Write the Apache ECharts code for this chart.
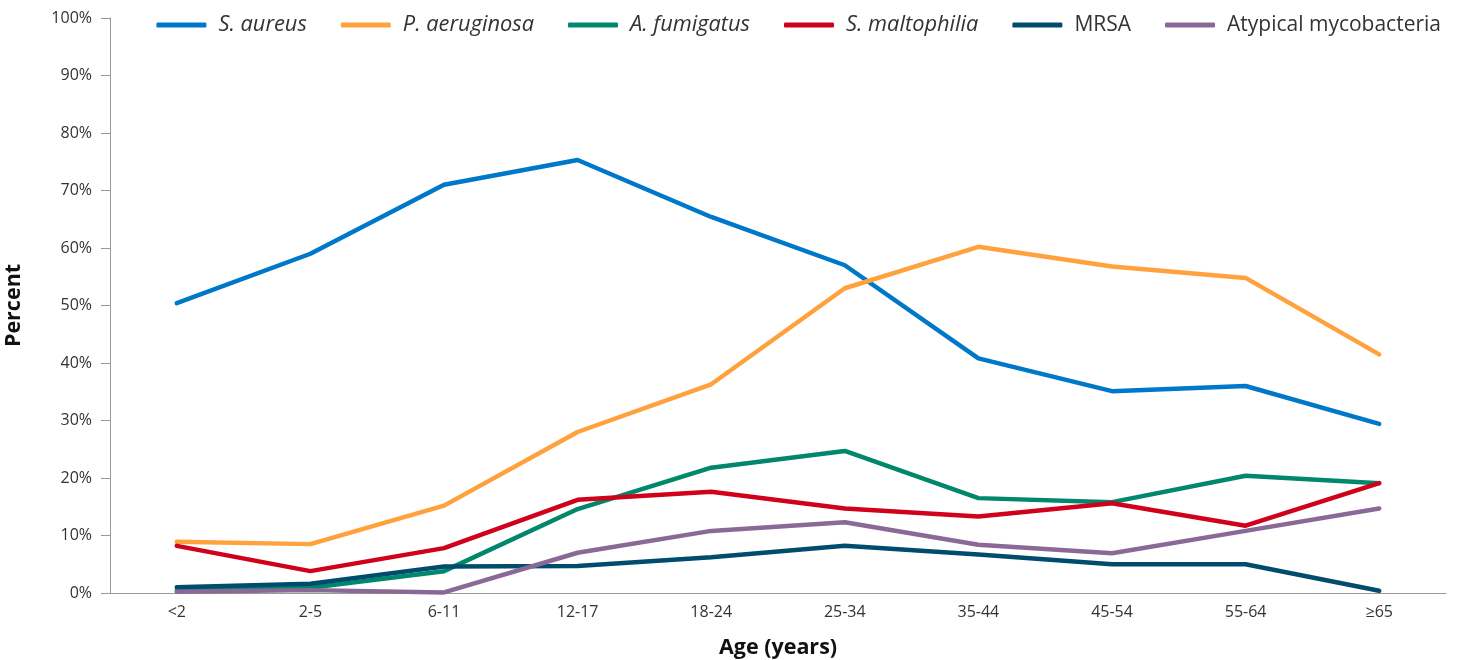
<!DOCTYPE html>
<html>
<head>
<meta charset="utf-8">
<script src="https://cdn.jsdelivr.net/npm/echarts@6/dist/echarts.min.js"></script>
<style>
html,body{margin:0;padding:0;background:#fff;}
#chart{width:1466px;height:660px;}
</style>
</head>
<body>
<div id="chart"></div>
<script>
const categories = ['<2', '2-5', '6-11', '12-17', '18-24', '25-34', '35-44', '45-54', '55-64', '≥65'];
const yTicks = [0, 10, 20, 30, 40, 50, 60, 70, 80, 90, 100];

const sAureus      = [50.4, 59.0, 71.0, 75.3, 65.4, 57.0, 40.8, 35.1, 36.0, 29.4];
const pAeruginosa  = [8.9, 8.5, 15.2, 28.0, 36.3, 53.0, 60.2, 56.8, 54.8, 41.5];
const aFumigatus   = [0.4, 0.9, 3.8, 14.6, 21.8, 24.7, 16.5, 15.8, 20.4, 19.1];
const sMaltophilia = [8.2, 3.8, 7.8, 16.2, 17.6, 14.7, 13.3, 15.6, 11.7, 19.1];
const mrsa         = [1.0, 1.6, 4.6, 4.7, 6.2, 8.2, 6.7, 5.0, 5.0, 0.4];
const atypical     = [0.2, 0.5, 0.1, 7.0, 10.8, 12.3, 8.4, 6.9, 10.8, 14.7];

const seriesNames = ['S. aureus', 'P. aeruginosa', 'A. fumigatus', 'S. maltophilia', 'MRSA', 'Atypical mycobacteria'];
const italicNames = [true, true, true, true, false, false];
const seriesData = [sAureus, pAeruginosa, aFumigatus, sMaltophilia, mrsa, atypical];
const colors = ['#0078c9', '#ffa23e', '#00876c', '#d0021b', '#004c6d', '#8b6996'];

const chart = echarts.init(document.getElementById('chart'), null, {renderer: 'canvas'});
const FONT = '"Open Sans", sans-serif';

chart.setOption({
  animation: false,
  color: colors,
  textStyle: {fontFamily: FONT},
  legend: {
    right: 20,
    top: 9,
    icon: 'roundRect',
    itemWidth: 50,
    itemHeight: 5,
    itemGap: 34,
    textStyle: {fontFamily: FONT, fontSize: 21, color: '#333', padding: [0, 0, 0, 7]},
    data: seriesNames.map((n, i) => ({
      name: n,
      textStyle: italicNames[i] ? {fontStyle: 'italic', fontSize: 21.8} : {fontStyle: 'normal', fontSize: 21}
    }))
  },
  grid: {left: 110, right: 20, top: 18, bottom: 67, containLabel: false, outerBoundsMode: 'none'},
  xAxis: {
    type: 'category',
    data: categories,
    boundaryGap: true,
    name: 'Age (years)',
    nameLocation: 'middle',
    nameGap: 44,
    nameTextStyle: {fontFamily: FONT, fontSize: 21.5, fontWeight: 'bold', color: '#111'},
    axisLine: {lineStyle: {color: '#999', width: 1}},
    axisTick: {alignWithLabel: true, length: 7, lineStyle: {color: '#999'}},
    axisLabel: {fontFamily: FONT, fontSize: 16, color: '#333', margin: 11}
  },
  yAxis: {
    type: 'value',
    min: yTicks[0],
    max: yTicks[yTicks.length - 1],
    interval: 10,
    name: 'Percent',
    nameLocation: 'middle',
    nameGap: 85,
    nameRotate: 90,
    nameTextStyle: {fontFamily: FONT, fontSize: 21.5, fontWeight: 'bold', color: '#111'},
    axisLine: {show: true, lineStyle: {color: '#999', width: 1}},
    axisTick: {show: true, length: 9, lineStyle: {color: '#999'}},
    axisLabel: {fontFamily: FONT, fontSize: 16, color: '#333', margin: 18, formatter: '{value}%'},
    splitLine: {show: false}
  },
  series: seriesData.map((d, i) => ({
    name: seriesNames[i],
    type: 'line',
    data: d,
    showSymbol: false,
    symbol: 'none',
    lineStyle: {width: 4.5, color: colors[i], cap: 'round'},
    itemStyle: {color: colors[i]}
  }))
});
</script>
</body>
</html>
